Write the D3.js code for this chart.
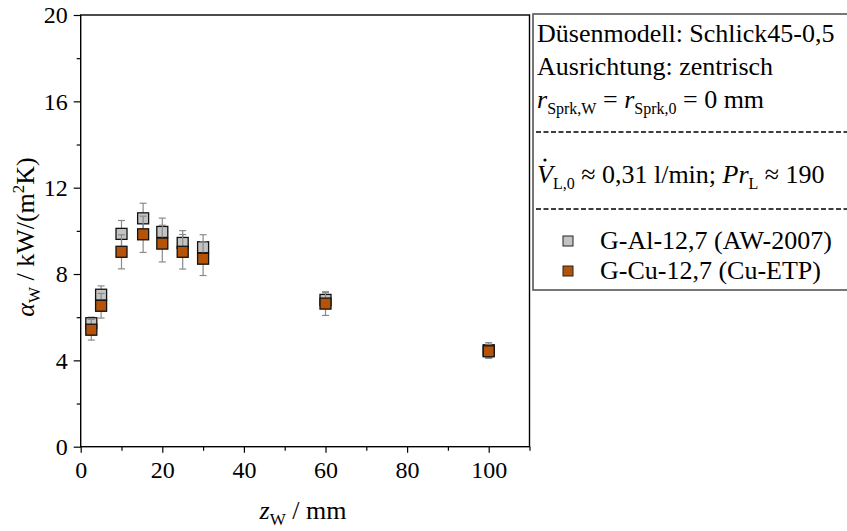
<!DOCTYPE html>
<html><head><meta charset="utf-8">
<script src="https://cdn.jsdelivr.net/npm/d3@7"></script>
<style>body{margin:0;background:#fff}svg{display:block;font-family:"Liberation Serif","Times New Roman",serif}</style>
</head><body><svg id="c" width="847" height="531"></svg>
<script>
const zPos     = [2.6, 5, 10, 15.3, 20, 25, 30, 60, 100];
const alValues = [5.72, 7.04, 9.86, 10.58, 9.95, 9.44, 9.24, 6.8, 4.47];
const alErr    = [0.28, 0.41, 0.62, 0.70, 0.64, 0.57, 0.58, 0.34, 0.35];
const cuValues = [5.42, 6.53, 9.03, 9.84, 9.41, 9.03, 8.71, 6.63, 4.42];
const cuErr    = [0.48, 0.57, 0.79, 0.84, 0.85, 0.80, 0.78, 0.55, 0.33];
const xTicks = [0, 20, 40, 60, 80, 100];
const yTicks = [0, 4, 8, 12, 16, 20];
const seriesNames = ["G-Al-12,7 (AW-2007)", "G-Cu-12,7 (Cu-ETP)"];
const seriesColors = ["#c3c3c3", "#b55409"];

const svg = d3.select("#c");
const L = 80.7, R = 529.5, T = 15, B = 446.7;
const x = d3.scaleLinear().domain([0, 110]).range([L, R]);
const y = d3.scaleLinear().domain([0, 20]).range([B, T]);

// axes
const gx = svg.append("g").attr("transform", `translate(0,${B})`)
  .call(d3.axisBottom(x).tickValues(xTicks).tickSize(6).tickPadding(8).tickFormat(d3.format("d")));
const gxm = svg.append("g").attr("transform", `translate(0,${B})`)
  .call(d3.axisBottom(x).tickValues([10,30,50,70,90,110]).tickSize(4).tickFormat(""));
const gy = svg.append("g").attr("transform", `translate(${L},0)`)
  .call(d3.axisLeft(y).tickValues(yTicks).tickSize(7).tickPadding(6).tickFormat(d3.format("d")));
const gym = svg.append("g").attr("transform", `translate(${L},0)`)
  .call(d3.axisLeft(y).tickValues([2,6,10,14,18]).tickSize(4).tickFormat(""));
[gx, gxm, gy, gym].forEach(g => {
  g.select(".domain").remove();
  g.selectAll("line").attr("stroke", "#000").attr("stroke-width", 1.2);
  g.selectAll("text").attr("font-size", 24).attr("fill", "#000").attr("font-family", "Liberation Serif");
});
svg.append("rect").attr("x", L).attr("y", T).attr("width", R - L).attr("height", B - T)
  .attr("fill", "none").attr("stroke", "#000").attr("stroke-width", 1.4);

// axis titles
const xt = svg.append("text").attr("x", 303).attr("y", 519).attr("text-anchor", "middle").attr("font-size", 26);
xt.append("tspan").attr("font-style", "italic").text("z");
xt.append("tspan").attr("font-size", 17).attr("dy", 6).text("W");
xt.append("tspan").attr("dy", -6).text(" / mm");

const yt = svg.append("text").attr("transform", "translate(34,237) rotate(-90)").attr("text-anchor", "middle").attr("font-size", 26);
yt.append("tspan").attr("font-style", "italic").text("α");
yt.append("tspan").attr("font-size", 17).attr("dy", 6).text("W");
yt.append("tspan").attr("dy", -6).text(" / kW/(m");
yt.append("tspan").attr("font-size", 17).attr("dy", -10).text("2");
yt.append("tspan").attr("dy", 10).text("K)");

// data
const series = [
  {v: alValues, e: alErr, c: seriesColors[0]},
  {v: cuValues, e: cuErr, c: seriesColors[1]}
];
const ms = 11, cap = 3.5;
series.forEach(s => {
  const pts = zPos.map((z, i) => ({z, v: s.v[i], e: s.e[i]}));
  const g = svg.append("g");
  const eb = g.selectAll("g.eb").data(pts).join("g").attr("stroke", "#8a8a8a").attr("stroke-width", 1.2);
  eb.append("line").attr("x1", d => x(d.z)).attr("x2", d => x(d.z)).attr("y1", d => y(d.v - d.e)).attr("y2", d => y(d.v + d.e));
  eb.append("line").attr("x1", d => x(d.z) - cap).attr("x2", d => x(d.z) + cap).attr("y1", d => y(d.v + d.e)).attr("y2", d => y(d.v + d.e));
  eb.append("line").attr("x1", d => x(d.z) - cap).attr("x2", d => x(d.z) + cap).attr("y1", d => y(d.v - d.e)).attr("y2", d => y(d.v - d.e));
  g.selectAll("rect").data(pts).join("rect")
    .attr("x", d => x(d.z) - ms / 2).attr("y", d => y(d.v) - ms / 2).attr("width", ms).attr("height", ms)
    .attr("fill", s.c).attr("stroke", "#111").attr("stroke-width", 1.3);
});

// legend box
const lx = 533;
svg.append("rect").attr("x", lx).attr("y", 14).attr("width", 330).attr("height", 276)
  .attr("fill", "#fff").attr("stroke", "#555").attr("stroke-width", 1.6);
const fs = 26, sfs = 16;
svg.append("text").attr("x", 537).attr("y", 42).attr("font-size", fs).text("Düsenmodell: Schlick45-0,5");
svg.append("text").attr("x", 537).attr("y", 75).attr("font-size", fs).text("Ausrichtung: zentrisch");
const t3 = svg.append("text").attr("x", 537).attr("y", 108).attr("font-size", fs);
t3.append("tspan").attr("font-style", "italic").text("r");
t3.append("tspan").attr("font-size", sfs).attr("dy", 6).text("Sprk,W");
t3.append("tspan").attr("dy", -6).text(" = ");
t3.append("tspan").attr("font-style", "italic").text("r");
t3.append("tspan").attr("font-size", sfs).attr("dy", 6).text("Sprk,0");
t3.append("tspan").attr("dy", -6).text(" = 0 mm");
svg.append("line").attr("x1", 536).attr("x2", 847).attr("y1", 132).attr("y2", 132)
  .attr("stroke", "#000").attr("stroke-width", 1.3).attr("stroke-dasharray", "5,2.5");
const t4 = svg.append("text").attr("x", 537).attr("y", 183).attr("font-size", fs);
t4.append("tspan").attr("font-style", "italic").text("V");
t4.append("tspan").attr("font-size", sfs).attr("dy", 6).text("L,0");
t4.append("tspan").attr("dy", -6).text(" ≈ 0,31 l/min; ");
t4.append("tspan").attr("font-style", "italic").text("Pr");
t4.append("tspan").attr("font-size", sfs).attr("dy", 6).text("L");
t4.append("tspan").attr("dy", -6).text(" ≈ 190");
svg.append("circle").attr("cx", 545).attr("cy", 160).attr("r", 1.6).attr("fill", "#000");
svg.append("line").attr("x1", 536).attr("x2", 847).attr("y1", 209).attr("y2", 209)
  .attr("stroke", "#000").attr("stroke-width", 1.3).attr("stroke-dasharray", "5,2.5");
seriesNames.forEach((n, i) => {
  const cy = 241 + i * 30;
  svg.append("rect").attr("x", 563).attr("y", cy - 5).attr("width", 10).attr("height", 10)
    .attr("fill", seriesColors[i]).attr("stroke", "#222").attr("stroke-width", 1);
  svg.append("text").attr("x", 600).attr("y", cy + 8).attr("font-size", fs).text(n);
});
</script></body></html>
